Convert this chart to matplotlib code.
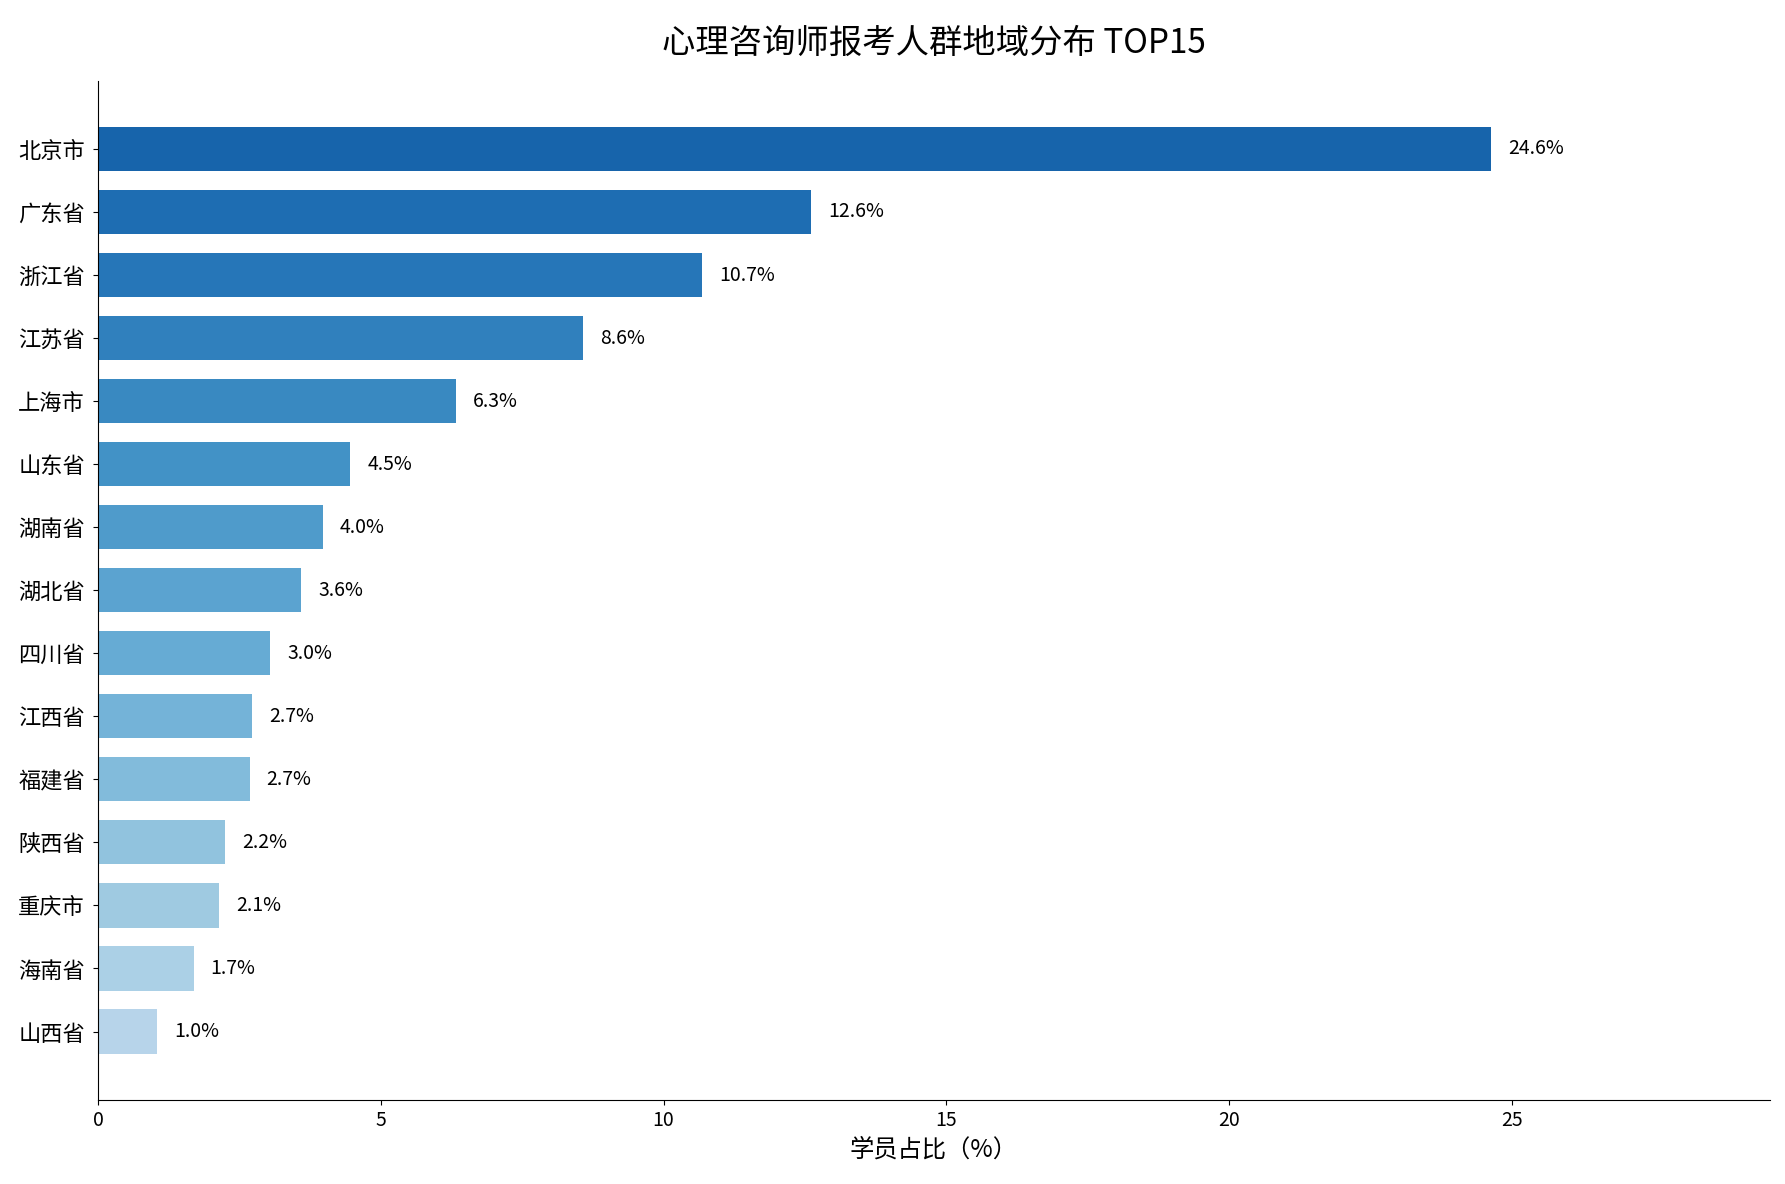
import matplotlib
matplotlib.use("Agg")
import matplotlib.pyplot as plt
import numpy as np

plt.rcParams['font.family'] = ['Noto Sans CJK SC', 'DejaVu Sans']

regions = ["北京市", "广东省", "浙江省", "江苏省", "上海市", "山东省", "湖南省", "湖北省",
           "四川省", "江西省", "福建省", "陕西省", "重庆市", "海南省", "山西省"]
shares = [24.64, 12.61, 10.68, 8.58, 6.33, 4.46, 3.97, 3.59, 3.04, 2.72, 2.68, 2.24, 2.14, 1.69, 1.04]

fig, ax = plt.subplots(figsize=(17.85, 11.84), dpi=100)
y = np.arange(len(regions))
colors = plt.cm.Blues(np.linspace(0.8, 0.3, len(regions)))
ax.barh(y, shares, height=0.7, color=colors)
ax.invert_yaxis()
ax.set_yticks(y)
ax.set_yticklabels(regions, fontsize=16)
ax.tick_params(axis='y', pad=6)
ax.tick_params(axis='x', labelsize=14)
for yi, v in zip(y, shares):
    ax.text(v + 0.3, yi, f"{v:.1f}%", va='center', ha='left', fontsize=14)
ax.set_xlim(0, max(shares) * 1.2)
ax.set_xlabel("学员占比（%）", fontsize=17.5)
ax.set_title("心理咨询师报考人群地域分布 TOP15", fontsize=24, pad=20)
ax.spines['top'].set_visible(False)
ax.spines['right'].set_visible(False)
fig.subplots_adjust(left=0.055, right=0.9915, top=0.932, bottom=0.071)
fig.savefig("out.png", dpi=100)
